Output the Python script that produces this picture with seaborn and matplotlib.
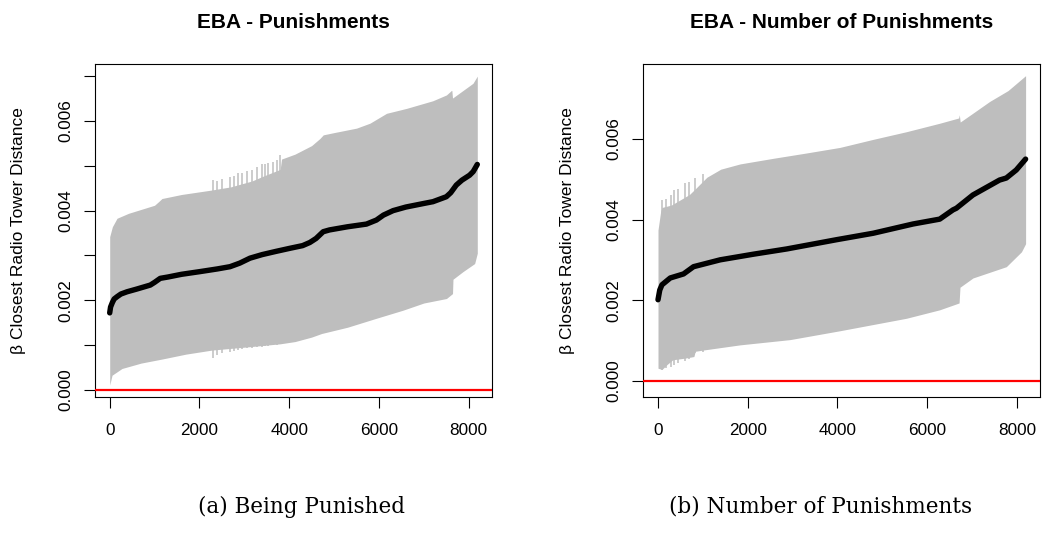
import numpy as np
import pandas as pd
import matplotlib
matplotlib.use("Agg")
import matplotlib.pyplot as plt
import seaborn as sns

# ---------------- data ----------------
N_SPECS = 8192

# Panel (a): EBA - Punishments
a_line_x = [1, 20, 60, 100, 164, 250, 386, 600, 905, 1000, 1127, 1300, 1600, 2010, 2400, 2682,
            2900, 3127, 3400, 3700, 4016, 4300, 4461, 4600, 4758, 4900, 5300, 5722, 5944, 6100,
            6315, 6600, 7000, 7205, 7502, 7600, 7724, 7850, 8020, 8100, 8192]
a_line_y = [0.00172, 0.00185, 0.00195, 0.00203, 0.00208, 0.00214, 0.00219, 0.00225, 0.00234, 0.00240,
            0.00249, 0.00252, 0.00258, 0.00264, 0.00270, 0.00275, 0.00283, 0.00294, 0.00302, 0.00309,
            0.00316, 0.00322, 0.00329, 0.00338, 0.00353, 0.00357, 0.00364, 0.00370, 0.00379, 0.00390,
            0.00400, 0.00408, 0.00416, 0.00420, 0.00431, 0.00440, 0.00457, 0.00468, 0.00479, 0.00487,
            0.00503]
a_up_x = [1, 60, 164, 420, 1000, 1090, 1165, 1600, 2277, 2700, 3167, 3400, 3800, 3830, 4130, 4500,
          4686, 4760, 5000, 5502, 5800, 6169, 6614, 7200, 7504, 7615, 7625, 7640, 8096, 8192]
a_up_y = [0.00342, 0.00364, 0.00383, 0.00394, 0.00412, 0.00420, 0.00427, 0.00436, 0.00446, 0.00453,
          0.00466, 0.00476, 0.00492, 0.00515, 0.00526, 0.00545, 0.00561, 0.00569, 0.00574, 0.00584,
          0.00595, 0.00617, 0.00628, 0.00645, 0.00658, 0.00668, 0.00668, 0.00651, 0.00684, 0.00700]
a_lo_x = [1, 53, 275, 700, 1165, 1700, 2277, 3167, 3800, 4130, 4500, 4723, 5300, 5944, 6537, 7000,
          7504, 7640, 7650, 7873, 8133, 8192]
a_lo_y = [0.00011, 0.00033, 0.00048, 0.00060, 0.00069, 0.00080, 0.00089, 0.00097, 0.00103, 0.00108,
          0.00118, 0.00126, 0.00140, 0.00160, 0.00178, 0.00194, 0.00204, 0.00215, 0.00247, 0.00264,
          0.00282, 0.00305]
# individual wider intervals (spikes)
a_spk_x = [2313, 2400, 2500, 2684, 2780, 2869, 2950, 3050, 3167, 3280, 3389, 3460, 3536, 3647, 3720, 3796]
a_spk_lo = [0.00071, 0.00078, 0.00082, 0.00085, 0.00088, 0.00090, 0.00091, 0.00093, 0.00094, 0.00096,
            0.00097, 0.00098, 0.00099, 0.00100, 0.00101, 0.00102]
a_spk_hi = [0.00468, 0.00466, 0.00470, 0.00476, 0.00478, 0.00483, 0.00484, 0.00488, 0.00491, 0.00498,
            0.00504, 0.00503, 0.00507, 0.00509, 0.00512, 0.00524]

# Panel (b): EBA - Number of Punishments
b_line_x = [1, 40, 89, 274, 570, 793, 1386, 2127, 2869, 3981, 4796, 5685, 6278, 6574, 6649, 7019,
            7612, 7762, 7984, 8192]
b_line_y = [0.00201, 0.00225, 0.00238, 0.00255, 0.00265, 0.00283, 0.00300, 0.00314, 0.00327, 0.00350,
            0.00366, 0.00389, 0.00401, 0.00424, 0.00428, 0.00461, 0.00498, 0.00503, 0.00523, 0.00550]
b_up_x = [1, 60, 90, 300, 500, 700, 830, 1090, 1400, 1830, 2571, 3300, 4054, 4796, 5537, 6278, 6700,
          6715, 6735, 7019, 7390, 7800, 8192]
b_up_y = [0.00374, 0.00420, 0.00430, 0.00436, 0.00449, 0.00462, 0.00476, 0.00505, 0.00525, 0.00538,
          0.00552, 0.00565, 0.00579, 0.00599, 0.00618, 0.00639, 0.00652, 0.00660, 0.00642, 0.00664,
          0.00693, 0.00720, 0.00757]
b_lo_x = [1, 90, 200, 330, 600, 800, 830, 1000, 1830, 2942, 4054, 5537, 6278, 6710, 6730, 7019,
          7762, 8100, 8192]
b_lo_y = [0.00031, 0.00028, 0.00040, 0.00052, 0.00056, 0.00060, 0.00073, 0.00076, 0.00089, 0.00102,
          0.00124, 0.00155, 0.00176, 0.00193, 0.00232, 0.00255, 0.00283, 0.00320, 0.00340]
b_spk_x = [100, 170, 300, 350, 450, 600, 700, 830, 1000]
b_spk_lo = [0.00027, 0.00032, 0.00035, 0.00040, 0.00045, 0.00050, 0.00055, 0.00068, 0.00072]
b_spk_hi = [0.00449, 0.00452, 0.00461, 0.00474, 0.00476, 0.00490, 0.00494, 0.00503, 0.00512]

titles = ["EBA - Punishments", "EBA - Number of Punishments"]
captions = ["(a) Being Punished", "(b) Number of Punishments"]
y_label = "\u03b2 Closest Radio Tower Distance"
x_ticks = [0, 2000, 4000, 6000, 8000]
a_y_ticks = [0.000, 0.001, 0.002, 0.003, 0.004, 0.005, 0.006, 0.007]
b_y_ticks = [0.000, 0.002, 0.004, 0.006]
a_ylim = (-0.000156, 0.00727)
b_ylim = (-0.000404, 0.00786)

# ---------------- style ----------------
sns.set_style("white")
plt.rcParams["font.family"] = ["Liberation Sans", "DejaVu Sans"]
plt.rcParams["axes.edgecolor"] = "black"
plt.rcParams["axes.linewidth"] = 0.8
plt.rcParams["text.color"] = "black"
plt.rcParams["axes.labelcolor"] = "black"
plt.rcParams["xtick.color"] = "black"
plt.rcParams["ytick.color"] = "black"

GREY = "#BEBEBE"
fig = plt.figure(figsize=(10.42, 5.52), dpi=100)
W, H = 1042, 552

def make_axes(left_px):
    return fig.add_axes([left_px / W, (H - 397) / H, 397 / W, 333 / H])

ax_a = make_axes(95)
ax_b = make_axes(643.3)

panels = [
    (ax_a, a_line_x, a_line_y, a_up_x, a_up_y, a_lo_x, a_lo_y, a_spk_x, a_spk_lo, a_spk_hi, a_y_ticks, a_ylim),
    (ax_b, b_line_x, b_line_y, b_up_x, b_up_y, b_lo_x, b_lo_y, b_spk_x, b_spk_lo, b_spk_hi, b_y_ticks, b_ylim),
]

for i, (ax, lx, ly, ux, uy, lox, loy, sx, slo, shi, yt, yl) in enumerate(panels):
    grid = np.arange(1, N_SPECS + 1)
    up = np.interp(grid, ux, uy)
    lo = np.interp(grid, lox, loy)
    ax.fill_between(grid, lo, up, color=GREY, linewidth=0, zorder=1)
    ax.vlines(sx, slo, shi, color=GREY, linewidth=1.1, zorder=1)
    df = pd.DataFrame({"spec": lx, "beta": ly})
    sns.lineplot(data=df, x="spec", y="beta", ax=ax, color="black", linewidth=3.9,
                 solid_capstyle="round", zorder=3)
    ax.axhline(0, color="#FF0000", linewidth=1.6, zorder=4)

    ax.set_xlim(1 - 0.04 * (N_SPECS - 1), N_SPECS + 0.04 * (N_SPECS - 1))
    ax.set_ylim(*yl)
    ax.set_xticks(x_ticks)
    ax.set_xticklabels([str(t) for t in x_ticks])
    ax.set_yticks(yt)
    ax.set_yticklabels([f"{t:.3f}" if round(t * 1000) % 2 == 0 else "" for t in yt])
    ax.tick_params(axis="both", which="major", direction="out", length=7.9, width=0.8,
                   color="black", labelcolor="black", labelsize=12.3, left=True, bottom=True)
    ax.tick_params(axis="x", pad=11)
    ax.tick_params(axis="y", pad=8, labelrotation=90)
    for lab in ax.get_yticklabels():
        lab.set_va("center")
    for s in ax.spines.values():
        s.set_visible(True)
        s.set_color("black")
        s.set_linewidth(0.8)
    ax.set_xlabel("")
    ax.set_ylabel(y_label, fontsize=12.5, va="center", color="black")
    ax.yaxis.set_label_coords(-0.192, 0.5)
    ax.text(0.5, 1 + 42 / 333, titles[i], transform=ax.transAxes, ha="center", va="center",
            fontsize=15, fontweight="bold", color="black")
    ax.grid(False)

fig.text(302 / W, 1 - 507 / H, captions[0], ha="center", va="center",
         fontsize=15.5, family="DejaVu Serif", color="black")
fig.text(821 / W, 1 - 507 / H, captions[1], ha="center", va="center",
         fontsize=15.5, family="DejaVu Serif", color="black")

fig.savefig("out.png", dpi=100, facecolor="white")
